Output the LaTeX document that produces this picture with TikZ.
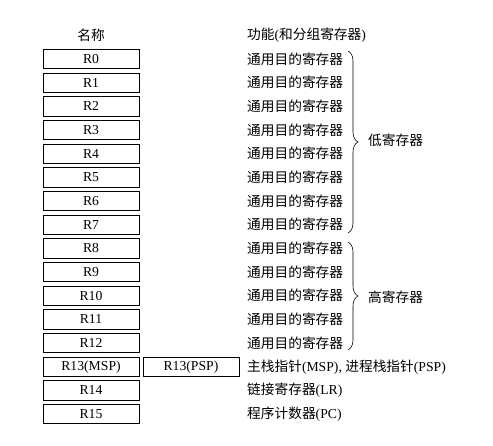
\documentclass[tikz,border=0pt]{standalone}
\usepackage{fontspec}
\setmainfont{Liberation Serif}
\newfontfamily\cjk{Noto Sans CJK SC}
\usetikzlibrary{decorations.pathreplacing}
\begin{document}
\begin{tikzpicture}[x=1pt,y=-1pt,
  regbox/.style={draw,line width=0.6pt,minimum width=96pt,minimum height=19.5pt,inner sep=0pt,font=\fontsize{13.7}{14}\selectfont},
  desc/.style={anchor=west,inner sep=0pt,font=\fontsize{13.7}{14}\selectfont},
  grpbrace/.style={decorate,decoration={brace,amplitude=10pt,aspect=0.5},line width=0.6pt}]
\useasboundingbox (0,0) rectangle (493,446);
\node[inner sep=0pt,font=\fontsize{13.7}{14}\selectfont] (hname) at (91,35) {\cjk 名称};
\node[desc] (hfunc) at (247,35) {{\cjk 功能}({\cjk 和分组寄存器})};
\foreach \i in {0,...,12}{
  \node[regbox] (r\i) at (91,{59+23.67*\i}) {R\i};
  \node[desc] (f\i) at (247,{59+23.67*\i}) {\cjk 通用目的寄存器};
}
\node[regbox] (r13) at (91,{59+23.67*13}) {R13(MSP)};
\node[regbox] (psp) at (191,{59+23.67*13}) {R13(PSP)};
\node[desc] (f13) at (247,{59+23.67*13}) {{\cjk 主栈指针}(MSP), {\cjk 进程栈指针}(PSP)};
\node[regbox] (r14) at (91,{59+23.67*14}) {R14};
\node[desc] (f14) at (247,{59+23.67*14}) {{\cjk 链接寄存器}(LR)};
\node[regbox] (r15) at (91,{59+23.67*15}) {R15};
\node[desc] (f15) at (247,{59+23.67*15}) {{\cjk 程序计数器}(PC)};
\coordinate (lowtop) at (348,51);
\coordinate (lowbot) at (348,233);
\coordinate (hightop) at (348,242);
\coordinate (highbot) at (348,350);
\draw[grpbrace] (lowtop) -- (lowbot);
\draw[grpbrace] (hightop) -- (highbot);
\node[desc] (low) at (368,140) {\cjk 低寄存器};
\node[desc] (high) at (368,297) {\cjk 高寄存器};
\end{tikzpicture}
\end{document}
